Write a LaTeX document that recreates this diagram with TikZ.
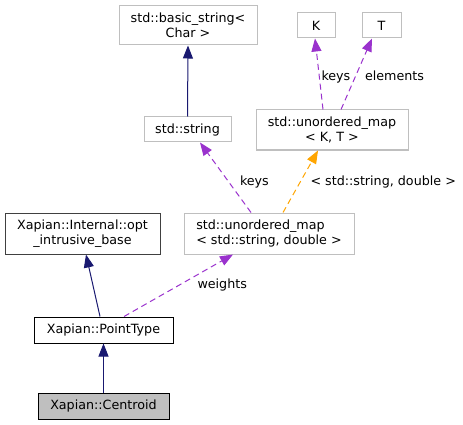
\documentclass[tikz,border=0pt]{standalone}
\usepackage{fontspec}
\setmainfont{DejaVu Sans}
\usetikzlibrary{arrows.meta}
\definecolor{boxgray}{HTML}{BFBFBF}
\definecolor{darkbox}{HTML}{404040}
\definecolor{inherit}{HTML}{191970}
\definecolor{usage}{HTML}{9A32CD}
\definecolor{templ}{HTML}{FFA500}
\begin{document}
\begin{tikzpicture}[x=1pt, y=-1pt, line width=1pt,
    font=\fontsize{12.7}{15}\selectfont,
    cls/.style={draw=boxgray, inner sep=0pt, align=center},
    doc/.style={cls, draw=black},
    inh/.style={draw=inherit, -{Triangle[length=13pt, width=10pt]}},
    use/.style={draw=usage, dash pattern=on 6pt off 4pt, -{Triangle[length=13pt, width=10pt, fill=usage]}},
    tpl/.style={draw=templ, dash pattern=on 6pt off 4pt, -{Triangle[length=13pt, width=10pt, fill=templ]}},
    lbl/.style={inner sep=0pt, anchor=base west}]
            \useasboundingbox (0, 0) rectangle (463, 425);

            \node[cls, minimum width=138pt, minimum height=39pt] (bstr) at (188, 25.5) {std::basic\_string<\\Char >};
            \node[cls, minimum width=38pt, minimum height=25pt] (K) at (316, 25.5) {K};
            \node[cls, minimum width=39pt, minimum height=25pt] (T) at (381.5, 25.5) {T};
            \node[cls, minimum width=87pt, minimum height=25pt] (str) at (187.5, 129.5) {std::string};
            \node[cls, minimum width=152pt, minimum height=40pt] (umapKT) at (332, 130) {std::unordered\_map\\< K, T >};
            \node[doc, draw=darkbox, minimum width=155pt, minimum height=41pt] (optbase) at (82.5, 233.5) {Xapian::Internal::opt\\\_intrusive\_base};
            \node[cls, align=left, minimum width=170pt, minimum height=41pt] (umapSD) at (269, 233.5) {std::unordered\_map\\< std::string, double >};
            \node[doc, minimum width=139pt, minimum height=26pt] (ptype) at (103.5, 330) {Xapian::PointType};
            \node[doc, fill=boxgray, minimum width=131pt, minimum height=26pt] (centroid) at (103.5, 406) {Xapian::Centroid};

            \draw[inh] (str.north) -- (bstr.south);
            \draw[use] ([xshift=-9pt]umapKT.north) -- ([xshift=-1pt]K.south);
            \draw[use] ([xshift=9pt]umapKT.north) -- ([xshift=-9.5pt]T.south);
            \draw[use] ([xshift=-18pt]umapSD.north) -- ([xshift=12.5pt]str.south);
            \draw[tpl] ([xshift=14pt]umapSD.north) -- ([xshift=-14pt]umapKT.south);
            \draw[inh] ([xshift=-3.5pt]ptype.north) -- ([xshift=3.5pt]optbase.south);
            \draw[use] ([xshift=20.5pt]ptype.north) -- ([xshift=-36pt]umapSD.south);
            \draw[inh] (centroid.north) -- (ptype.south);

            \node[lbl] (lkeysK) at (321, 81) {keys};
            \node[lbl] (lelem) at (364.5, 81) {elements};
            \node[lbl] (lkeys) at (239.5, 185) {keys};
            \node[lbl] (ltpl) at (310, 185) {< std::string, double >};
            \node[lbl] (lwts) at (197, 288) {weights};
        \end{tikzpicture}
\end{document}
